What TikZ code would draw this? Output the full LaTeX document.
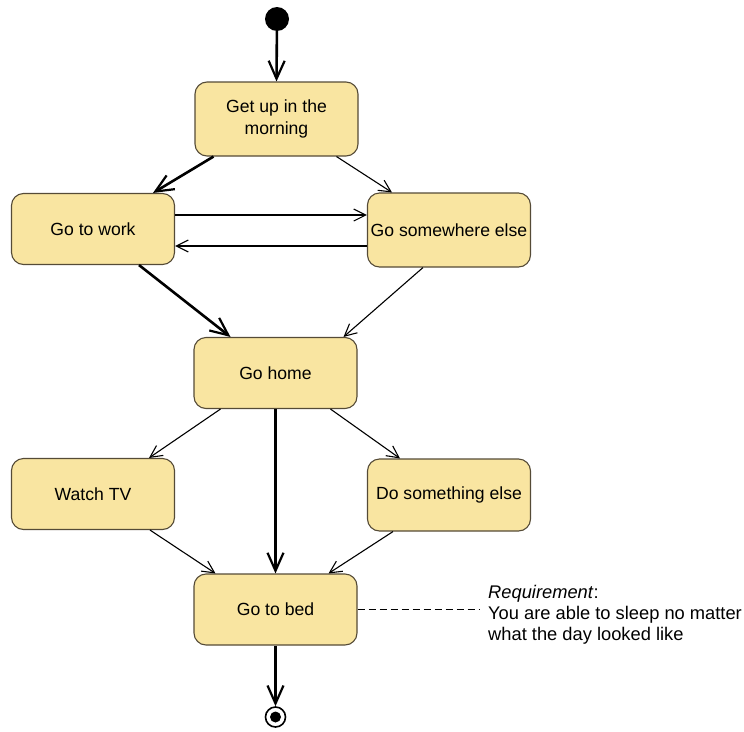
\documentclass[tikz,border=0pt]{standalone}
\usepackage{fontspec}
\setmainfont{Liberation Sans}
\usetikzlibrary{arrows.meta}
\definecolor{actfill}{RGB}{249,229,161}
\definecolor{actdraw}{RGB}{85,75,55}
\begin{document}
\begin{tikzpicture}[x=1pt,y=-1pt,
  act/.style={draw=actdraw,fill=actfill,line width=1.1pt,rounded corners=12pt,
    minimum width=163pt,minimum height=71pt,inner sep=2pt,align=center,
    font=\fontsize{17.6}{22}\selectfont},
  thinflow/.style={line width=1.1pt,-{Straight Barb[length=12pt,width=12pt,line width=1.1pt]}},
  thickflow/.style={line width=2.6pt,-{Straight Barb[length=18pt,width=16pt,line width=2.2pt]}},
  notetext/.style={align=left,inner sep=0pt,anchor=north west,
    font=\fontsize{18.3}{21}\selectfont}]
\useasboundingbox (0,0) rectangle (744,731);

% initial and final states
\node[circle,fill=black,minimum size=24pt,inner sep=0pt] (start) at (277,19) {};
\node[circle,draw=black,line width=1.6pt,minimum size=20pt,inner sep=0pt] (stop) at (275.5,717) {};
\fill[black] (stop.center) circle (5.5pt);

% activities
\node[act,minimum height=74pt] (getup) at (276.5,119) {Get up in the\\morning};
\node[act] (work) at (93,229) {Go to work};
\node[act,minimum height=74pt] (else) at (449,230) {Go somewhere else};
\node[act] (home) at (275.5,373) {Go home};
\node[act] (tv) at (93,494) {Watch TV};
\node[act,minimum height=72pt] (dosth) at (449,495) {Do something else};
\node[act] (bed) at (275.5,609.5) {Go to bed};

% annotation
\node[notetext] (note) at (488,585) {\textit{Requirement}:\\You are able to sleep no matter\\what the day looked like};

% transitions
\draw[thickflow] (start) -- (getup.north);
\draw[thickflow] ([xshift=-63pt]getup.south) -- ([xshift=60pt]work.north);
\draw[thinflow] ([xshift=60pt]getup.south) -- ([xshift=-57pt]else.north);
\draw[thinflow] ([yshift=14pt]work.east) -- ([yshift=14pt]work.east -| else.west);
\draw[thinflow] ([yshift=-17pt]work.east -| else.west) -- ([yshift=-17pt]work.east);
\draw[thickflow] ([xshift=46pt]work.south) -- ([xshift=-45pt]home.north);
\draw[thinflow] ([xshift=-26pt]else.south) -- ([xshift=68pt]home.north);
\draw[thinflow] ([xshift=-55pt]home.south) -- ([xshift=56pt]tv.north);
\draw[thickflow] (home.south) -- (bed.north);
\draw[thinflow] ([xshift=55pt]home.south) -- ([xshift=-49pt]dosth.north);
\draw[thinflow] ([xshift=57pt]tv.south) -- ([xshift=-60pt]bed.north);
\draw[thinflow] ([xshift=-56pt]dosth.south) -- ([xshift=53pt]bed.north);
\draw[thickflow] (bed.south) -- (stop.north);

% dashed link to the annotation
\draw[line width=1.1pt,dash pattern=on 7pt off 4pt] (bed.east) -- ([xshift=-9pt]note.west |- bed.east);
\end{tikzpicture}
\end{document}
